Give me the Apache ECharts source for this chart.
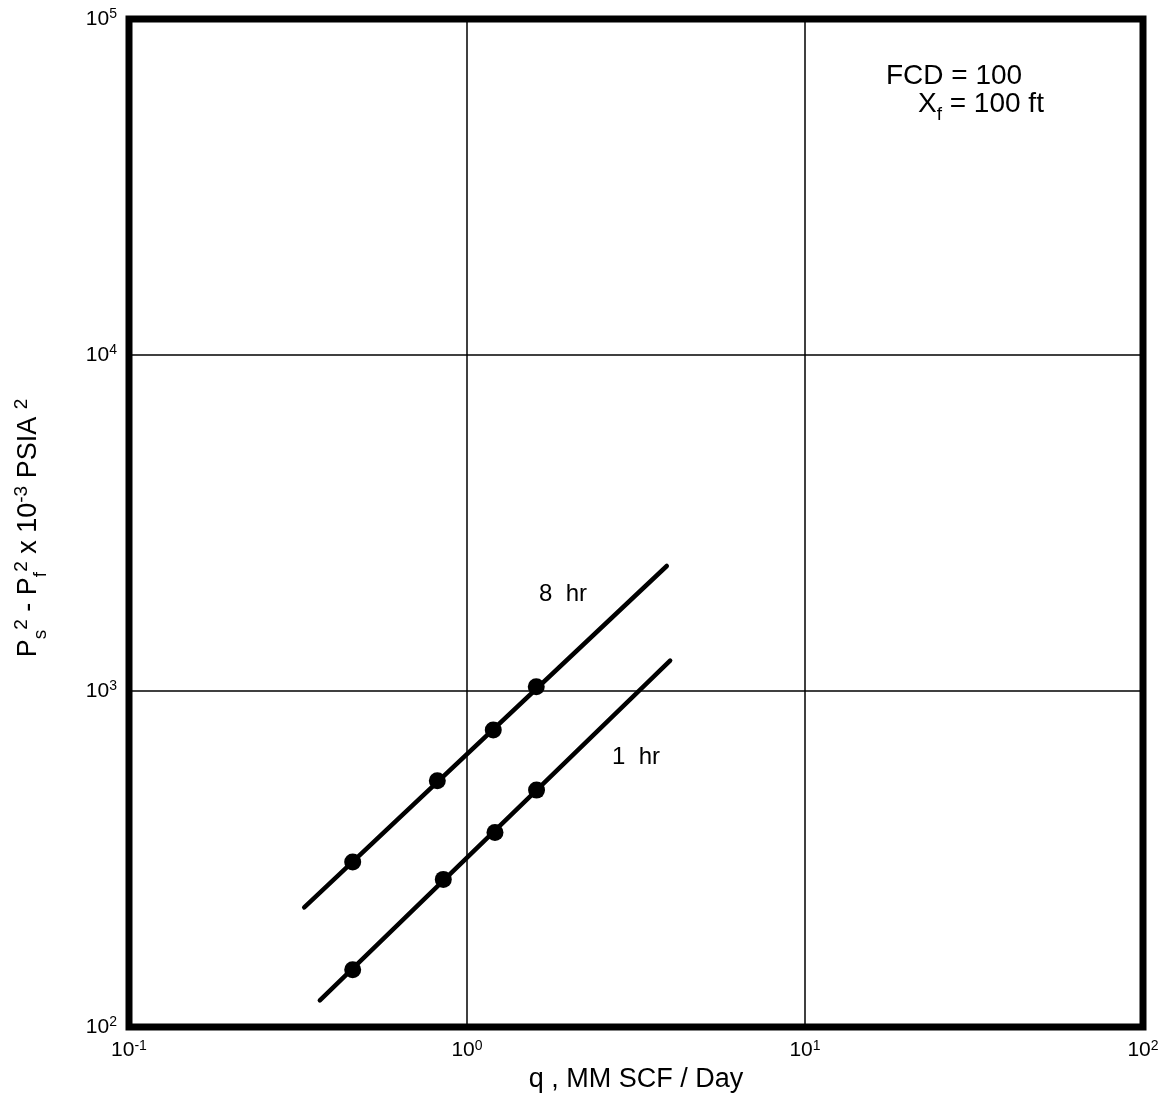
<!DOCTYPE html>
<html>
<head>
<meta charset="utf-8">
<script src="https://cdn.jsdelivr.net/npm/echarts@6/dist/echarts.min.js"></script>
<style>
  html, body { margin: 0; padding: 0; background: #fff; }
  #chart { width: 1162px; height: 1097px; }
</style>
</head>
<body>
<div id="chart"></div>
<script>
// Flow rate q (MM SCF/Day) vs. Ps^2 - Pf^2 (x 10^-3 psia^2), log-log
const hr8Q  = [0.459, 0.817, 1.196, 1.603];
const hr8DP = [310, 541, 765, 1030];
const hr1Q  = [0.459, 0.851, 1.21, 1.606];
const hr1DP = [148, 275, 379, 507];

// straight-line fits drawn through each set of points
const hr8LineQ  = [0.330, 3.90];
const hr8LineDP = [227, 2355];
const hr1LineQ  = [0.367, 3.99];
const hr1LineDP = [120, 1231];

const xRange = [0.1, 100];
const yRange = [100, 100000];

const FONT = '"Liberation Sans", Arial, Helvetica, sans-serif';
const pairs = (a, b) => a.map((v, i) => [v, b[i]]);

const powLabel = v => '{b|10}{s|' + Math.round(Math.log10(v)) + '}';
const powRich = {
  b: { fontFamily: FONT, fontSize: 21, color: '#000' },
  s: { fontFamily: FONT, fontSize: 14, color: '#000', verticalAlign: 'bottom', padding: [0, 0, 9, 0] }
};

const chart = echarts.init(document.getElementById('chart'), null, { renderer: 'canvas' });

chart.setOption({
  animation: false,
  backgroundColor: '#fff',
  grid: {
    left: 129, right: 19, top: 19, bottom: 70,
    containLabel: false, outerBoundsMode: 'none',
    show: true, borderColor: '#000', borderWidth: 7, backgroundColor: 'transparent'
  },
  xAxis: {
    type: 'log', logBase: 10, min: xRange[0], max: xRange[1],
    axisLine: { show: false },
    axisTick: { show: false },
    splitLine: { show: true, lineStyle: { color: '#000', width: 1.5 } },
    axisLabel: { formatter: powLabel, rich: powRich, margin: 12 },
    name: '{t|q , MM SCF / Day}',
    nameLocation: 'middle', nameGap: 39,
    nameTextStyle: { rich: { t: { fontFamily: FONT, fontSize: 27, color: '#000' } } }
  },
  yAxis: {
    type: 'log', logBase: 10, min: yRange[0], max: yRange[1],
    axisLine: { show: false },
    axisTick: { show: false },
    splitLine: { show: true, lineStyle: { color: '#000', width: 1.5 } },
    axisLabel: { formatter: powLabel, rich: powRich, margin: 12 }
  },
  series: [
    {
      name: '8 hr fit', type: 'line', data: pairs(hr8LineQ, hr8LineDP),
      showSymbol: false, lineStyle: { color: '#000', width: 4.5, cap: 'round' }, z: 3
    },
    {
      name: '1 hr fit', type: 'line', data: pairs(hr1LineQ, hr1LineDP),
      showSymbol: false, lineStyle: { color: '#000', width: 4.5, cap: 'round' }, z: 3
    },
    {
      name: '8 hr', type: 'scatter', data: pairs(hr8Q, hr8DP),
      symbol: 'circle', symbolSize: 17, itemStyle: { color: '#000', opacity: 1 }, z: 4
    },
    {
      name: '1 hr', type: 'scatter', data: pairs(hr1Q, hr1DP),
      symbol: 'circle', symbolSize: 17, itemStyle: { color: '#000', opacity: 1 }, z: 4
    }
  ],
  graphic: [
    {
      // vertical axis title
      type: 'text', x: 29, y: 528, rotation: Math.PI / 2,
      style: {
        text: '{t|P}{sb|s}{sp|2}{t| - P}{sb|f}{sp|2}{t| x 10}{sp|-3}{t| PSIA }{sp|2}',
        align: 'center', verticalAlign: 'middle',
        rich: {
          t:  { font: '27px ' + FONT, fill: '#000' },
          sb: { font: '19px ' + FONT, fill: '#000', verticalAlign: 'bottom', padding: [0, 0, -5, 0] },
          sp: { font: '19px ' + FONT, fill: '#000', verticalAlign: 'bottom', padding: [0, 0, 14, 0] }
        }
      }
    },
    {
      type: 'text', left: 886, top: 62,
      style: { text: 'FCD = 100', font: '28px ' + FONT, fill: '#000' }
    },
    {
      type: 'text', left: 918, top: 90,
      style: {
        text: '{t|X}{sb|f}{t| = 100 ft}',
        rich: {
          t:  { font: '28px ' + FONT, fill: '#000' },
          sb: { font: '19px ' + FONT, fill: '#000', verticalAlign: 'bottom', padding: [0, 0, -6, 0] }
        }
      }
    },
    {
      type: 'text', left: 539, top: 582,
      style: { text: '8  hr', font: '24px ' + FONT, fill: '#000' }
    },
    {
      type: 'text', left: 612, top: 745,
      style: { text: '1  hr', font: '24px ' + FONT, fill: '#000' }
    }
  ]
});
</script>
</body>
</html>
